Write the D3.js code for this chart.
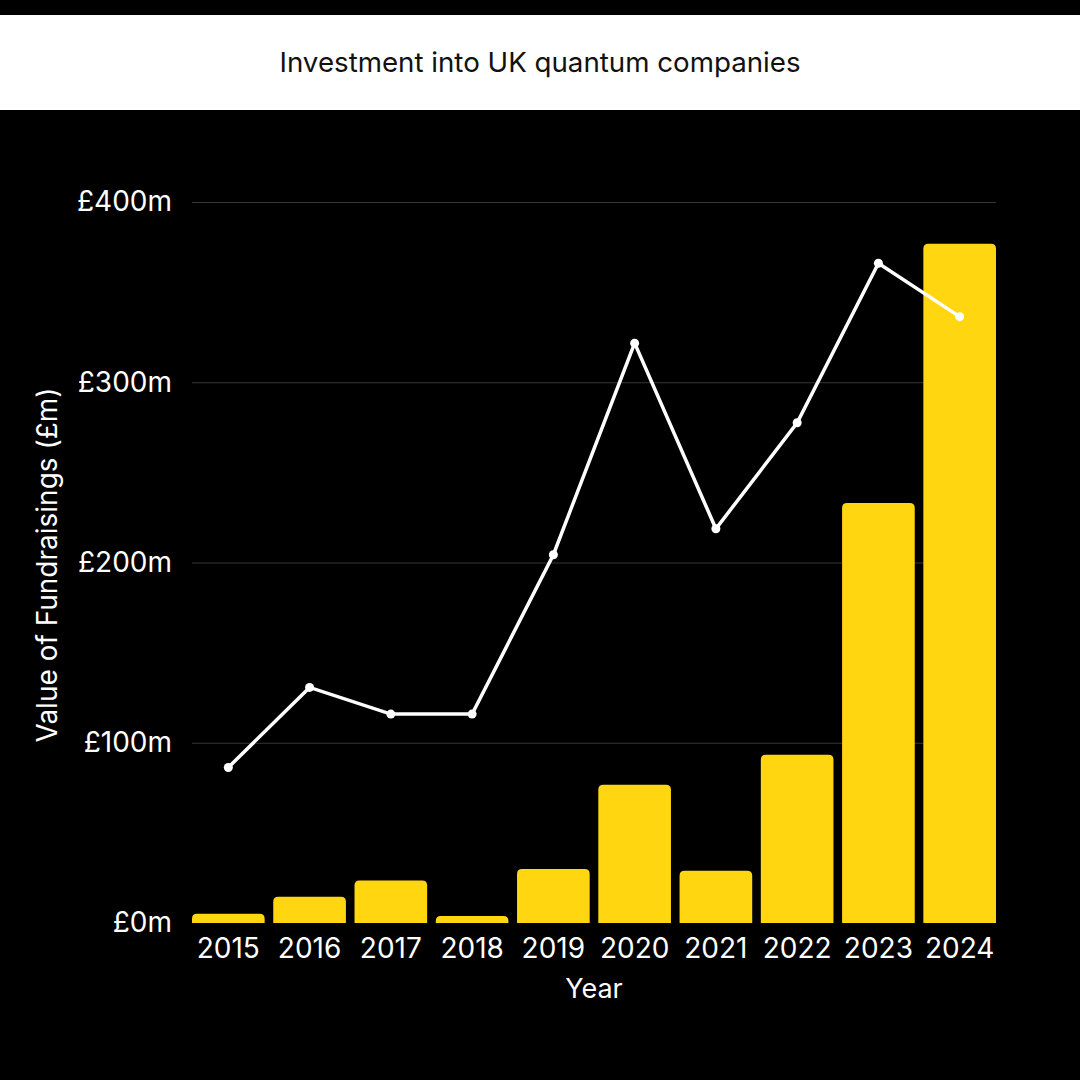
<!DOCTYPE html>
<html>
<head>
<meta charset="utf-8">
<script src="https://cdn.jsdelivr.net/npm/d3@7"></script>
<style>
  html, body { margin: 0; padding: 0; background: #000; }
  text { font-family: Inter, "Noto Sans", sans-serif; }
</style>
</head>
<body>
<svg id="chart" width="1080" height="1080"></svg>
<script>
/* Investment into UK quantum companies - bars plus line */
var years = ["2015", "2016", "2017", "2018", "2019", "2020", "2021", "2022", "2023", "2024"];
var barValues = [5.2, 14.6, 23.6, 3.9, 30, 76.7, 29, 93.3, 233, 376.8];
var lineValues = [86.3, 130.7, 115.9, 115.9, 204.3, 321.7, 218.7, 277.5, 366, 336.4];
var yTicks = [0, 100, 200, 300, 400];

var width = 1080, height = 1080;
var margin = {top: 202, bottom: 157, left: 192, right: 84};
var barColor = "#FFD60F";
var fontStack = "Inter, 'Noto Sans', sans-serif";

var svg = d3.select("#chart");

svg.append("rect")
    .attr("width", width)
    .attr("height", height)
    .attr("fill", "#000");

/* title band */
svg.append("rect")
    .attr("x", 0)
    .attr("y", 15)
    .attr("width", width)
    .attr("height", 95)
    .attr("fill", "#fff");

svg.append("text")
    .attr("x", width / 2)
    .attr("y", 72)
    .attr("text-anchor", "middle")
    .attr("font-size", 27.7)
    .attr("fill", "#111")
    .text("Investment into UK quantum companies");

var x = d3.scaleBand()
    .domain(years)
    .range([margin.left, width - margin.right])
    .paddingInner(0.106)
    .paddingOuter(0);

var y = d3.scaleLinear()
    .domain([0, 400])
    .range([height - margin.bottom, margin.top]);

/* grid lines */
svg.append("g")
    .selectAll("line")
    .data(yTicks.filter(d => d > 0))
    .join("line")
    .attr("x1", margin.left)
    .attr("x2", width - margin.right)
    .attr("y1", d => y(d) + 0.5)
    .attr("y2", d => y(d) + 0.5)
    .attr("stroke", "#363636")
    .attr("stroke-width", 1);

/* y axis labels */
var yAxis = svg.append("g")
    .attr("transform", "translate(" + margin.left + ",0)")
    .call(d3.axisLeft(y).tickValues(yTicks).tickSize(0).tickPadding(20).tickFormat(d => "£" + d + "m"));
yAxis.select(".domain").remove();
yAxis.selectAll("text")
    .attr("font-size", 28)
    .attr("fill", "#fff")
    .style("font-family", fontStack);

/* x axis labels */
var xAxis = svg.append("g")
    .attr("transform", "translate(0," + (height - margin.bottom) + ")")
    .call(d3.axisBottom(x).tickSize(0).tickPadding(15));
xAxis.select(".domain").remove();
xAxis.selectAll("text")
    .attr("font-size", 28)
    .attr("fill", "#fff")
    .style("font-family", fontStack);

/* bars with rounded tops */
function topRounded(x0, y0, w, h, r) {
    r = Math.min(r, h, w / 2);
    return "M" + x0 + "," + (y0 + h) +
        "V" + (y0 + r) +
        "Q" + x0 + "," + y0 + " " + (x0 + r) + "," + y0 +
        "H" + (x0 + w - r) +
        "Q" + (x0 + w) + "," + y0 + " " + (x0 + w) + "," + (y0 + r) +
        "V" + (y0 + h) + "Z";
}

svg.append("g")
    .selectAll("path")
    .data(barValues)
    .join("path")
    .attr("d", (d, i) => topRounded(x(years[i]), y(d), x.bandwidth(), y(0) - y(d), 5))
    .attr("fill", barColor);

/* line series */
var line = d3.line()
    .x((d, i) => x(years[i]) + x.bandwidth() / 2)
    .y(d => y(d));

svg.append("path")
    .datum(lineValues)
    .attr("d", line)
    .attr("fill", "none")
    .attr("stroke", "#fff")
    .attr("stroke-width", 3.5);

svg.append("g")
    .selectAll("circle")
    .data(lineValues)
    .join("circle")
    .attr("cx", (d, i) => x(years[i]) + x.bandwidth() / 2)
    .attr("cy", d => y(d))
    .attr("r", 4.5)
    .attr("fill", "#fff");

/* axis titles */
svg.append("text")
    .attr("x", (margin.left + width - margin.right) / 2)
    .attr("y", 998)
    .attr("text-anchor", "middle")
    .attr("font-size", 27)
    .attr("fill", "#fff")
    .text("Year");

svg.append("text")
    .attr("transform", "translate(57," + 565 + ") rotate(-90)")
    .attr("text-anchor", "middle")
    .attr("font-size", 28)
    .attr("fill", "#fff")
    .text("Value of Fundraisings (£m)");
</script>
</body>
</html>
